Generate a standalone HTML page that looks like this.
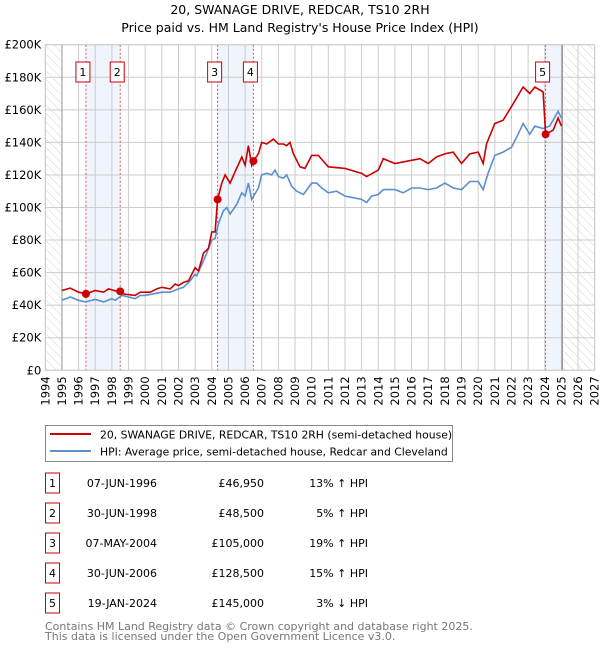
<!DOCTYPE html>
<html><head><meta charset="utf-8"><style>
body{margin:0;background:#fff;font-family:"DejaVu Sans","Liberation Sans",sans-serif;}
svg text{font-family:"DejaVu Sans","Liberation Sans",sans-serif;}
</style></head><body>
<svg id="c" width="600" height="650" viewBox="0 0 600 650" xmlns="http://www.w3.org/2000/svg">
<defs><pattern id="hatch" width="6" height="6" patternUnits="userSpaceOnUse" patternTransform="rotate(-45)"><line x1="0" y1="0" x2="0" y2="6" stroke="#d4d4d4" stroke-width="1"/></pattern></defs>
<text x="300" y="14" text-anchor="middle" font-size="12.5">20, SWANAGE DRIVE, REDCAR, TS10 2RH</text>
<text x="300" y="32" text-anchor="middle" font-size="12.5">Price paid vs. HM Land Registry's House Price Index (HPI)</text>
<g id="plot"></g>
<g>
<rect x="45.5" y="425.5" width="407" height="36" fill="#fff" stroke="#888"/>
<line x1="50" y1="434" x2="91" y2="434" stroke="#cc0000" stroke-width="2"/>
<text x="100" y="438.5" font-size="10.8">20, SWANAGE DRIVE, REDCAR, TS10 2RH (semi-detached house)</text>
<line x1="50" y1="451" x2="91" y2="451" stroke="#5b8fd0" stroke-width="2"/>
<text x="100" y="455.5" font-size="10.8">HPI: Average price, semi-detached house, Redcar and Cleveland</text>
</g>
<g id="table" font-size="11"></g>
<text x="45" y="630" font-size="11" fill="#777">Contains HM Land Registry data © Crown copyright and database right 2025.</text>
<text x="45" y="640" font-size="11" fill="#777">This data is licensed under the Open Government Licence v3.0.</text>
</svg>
<script>
const hpiYears=[1995,1995.5,1996,1996.4,1997,1997.5,1998,1998.2,1998.6,1999,1999.4,1999.7,2000,2000.5,2001,2001.5,2002,2002.3,2002.7,2003,2003.1,2003.4,2003.7,2004,2004.2,2004.4,2004.7,2004.9,2005.1,2005.5,2005.8,2006,2006.2,2006.4,2006.8,2007,2007.3,2007.6,2007.8,2008,2008.3,2008.5,2008.8,2009.1,2009.5,2010,2010.3,2010.6,2011,2011.5,2012,2012.5,2013,2013.3,2013.6,2014,2014.3,2015,2015.5,2016,2016.5,2017,2017.5,2018,2018.5,2019,2019.5,2020,2020.3,2020.6,2021,2021.5,2022,2022.4,2022.7,2023.1,2023.4,2023.9,2024.3,2024.8,2025];
const hpiValues=[43,45,43,42,43.5,42,44,43,46,45,44,46,46,47,48,48,50,51,55,59,58,65,72,80,81,90,98,100,96,102,109,107,115,105,112,120,121,120,123,119,118,120,113,110,108,115,115,112,109,110,107,106,105,103,107,108,111,111,109,112,112,111,112,115,112,111,116,116,111,121,132,134,137,145,151.6,145,150,148.5,150,159,155];
const ppYears=[1995,1995.5,1996,1996.44,1997,1997.5,1997.8,1998.3,1998.5,1998.6,1999,1999.4,1999.7,2000.3,2000.7,2001,2001.5,2001.8,2002,2002.3,2002.6,2003,2003.2,2003.5,2003.8,2004,2004.2,2004.35,2004.6,2004.8,2005.1,2005.4,2005.8,2006,2006.2,2006.4,2006.5,2006.8,2007,2007.3,2007.7,2008,2008.3,2008.5,2008.7,2008.9,2009.3,2009.6,2010,2010.4,2011,2012,2013,2013.3,2014,2014.3,2015,2016,2016.5,2017,2017.5,2018,2018.5,2019,2019.5,2020,2020.3,2020.5,2021,2021.5,2022,2022.7,2023.1,2023.4,2023.9,2024.05,2024.5,2024.8,2025];
const ppValues=[49,50.5,48,46.95,49,48,50,48.5,48.5,47,46.5,46,48,48,50,51,50,53,52,54,55,63,61,72,75,85,85,105,115,120,115,122,131,126,138,126,128.5,133,140,139,142,139,139,138,140,133,125,124,132,132,125,124,121,119,123,130,127,129,130,127,131,133,134,127,133,134,127,139,151.6,153.6,162,174,170,174,171,145,147.5,155,150];
const saleYears=[1996.44,1998.5,2004.35,2006.5,2024.05];
const saleValues=[46950,48500,105000,128500,145000];
const saleDates=["07-JUN-1996","30-JUN-1998","07-MAY-2004","30-JUN-2006","19-JAN-2024"];
const salePrices=["£46,950","£48,500","£105,000","£128,500","£145,000"];
const saleDiffs=["13% ↑ HPI","5% ↑ HPI","19% ↑ HPI","15% ↑ HPI","3% ↓ HPI"];
const yTicks=[0,20,40,60,80,100,120,140,160,180,200];
const yTickLabels=["£0","£20K","£40K","£60K","£80K","£100K","£120K","£140K","£160K","£180K","£200K"];
const xStart=1994,xEnd=2027;
const L=45.3,R=594.7,T=44.7,B=370.3;
const X=y=>L+(y-xStart)*(R-L)/(xEnd-xStart);
const Y=v=>B-v*(B-T)/200;
const NS="http://www.w3.org/2000/svg";
const plot=document.getElementById('plot');
function mk(tag,attrs,parent){const e=document.createElementNS(NS,tag);for(const k in attrs)e.setAttribute(k,attrs[k]);(parent||plot).appendChild(e);return e;}
let h1=mk('rect',{x:L,y:T,width:X(1995)-L,height:B-T,fill:'url(#hatch)'});


let h2=mk('rect',{x:X(2025.05),y:T,width:R-X(2025.05),height:B-T,fill:'url(#hatch)'});


[[0,1],[2,3]].forEach(p=>{const b=mk('rect',{x:X(saleYears[p[0]]),y:T,width:X(saleYears[p[1]])-X(saleYears[p[0]]),height:B-T,fill:'#f0f4fd'});

});
let b5=mk('rect',{x:X(saleYears[4]),y:T,width:X(2025.05)-X(saleYears[4]),height:B-T,fill:'#f0f4fd'});


for(let yr=xStart;yr<=xEnd;yr++){const g=mk('line',{x1:X(yr),x2:X(yr),y1:T,y2:B,stroke:'#ccc','stroke-width':1});


const t=mk('text',{x:0,y:0,'font-size':11.5,'text-anchor':'end',transform:`translate(${X(yr)+4},${B+6}) rotate(-90)`});t.textContent=yr;

}
yTicks.forEach((v,i)=>{const g=mk('line',{x1:L,x2:R,y1:Y(v),y2:Y(v),stroke:'#ccc','stroke-width':1});


const t=mk('text',{x:L-4,y:Y(v)+4,'font-size':11.5,'text-anchor':'end'});t.textContent=yTickLabels[i];

});
let a1=mk('line',{x1:X(1995),x2:X(1995),y1:T,y2:B,stroke:'#999','stroke-width':1});


let a2=mk('line',{x1:X(2025.05),x2:X(2025.05),y1:T,y2:B,stroke:'#999','stroke-width':1.5});


saleYears.forEach((yr,i)=>{const l=mk('line',{x1:X(yr),x2:X(yr),y1:T,y2:B,stroke:'#e05050','stroke-width':1,'stroke-dasharray':'2,2'});


const r=mk('rect',{x:X(yr)-10,y:62,width:14,height:20,fill:'#fff',stroke:'#cc0000'});


const t=mk('text',{x:X(yr)-3,y:76,'font-size':11,'text-anchor':'middle'});t.textContent=i+1;

});
const pts=(xs,vs)=>xs.map((x,i)=>X(x).toFixed(1)+','+Y(vs[i]).toFixed(1)).join(' ');
let hl=mk('polyline',{points:pts(hpiYears,hpiValues),fill:'none',stroke:'#5b8fd0','stroke-width':1.6});


let pl=mk('polyline',{points:pts(ppYears,ppValues),fill:'none',stroke:'#cc0000','stroke-width':1.6});


saleYears.forEach((yr,i)=>{const c=mk('circle',{cx:X(yr),cy:Y(saleValues[i]/1000),r:4,fill:'#cc0000'});

});
let fr=mk('rect',{x:L,y:T,width:R-L,height:B-T,fill:'none',stroke:'#ccc'});


const tb=document.getElementById('table');
saleDates.forEach((d,i)=>{const cy=483+i*30;
const r=mk('rect',{x:45.5,y:cy-10,width:14,height:20,fill:'#fff',stroke:'#cc0000'},tb);


const n=mk('text',{x:52.5,y:cy+4,'text-anchor':'middle'},tb);n.textContent=i+1;


const a=mk('text',{x:157,y:cy+4,'text-anchor':'end'},tb);a.textContent=d;


const p=mk('text',{x:264,y:cy+4,'text-anchor':'end'},tb);p.textContent=salePrices[i];


const h=mk('text',{x:368,y:cy+4,'text-anchor':'end'},tb);h.textContent=saleDiffs[i];

});
</script>
</body></html>
